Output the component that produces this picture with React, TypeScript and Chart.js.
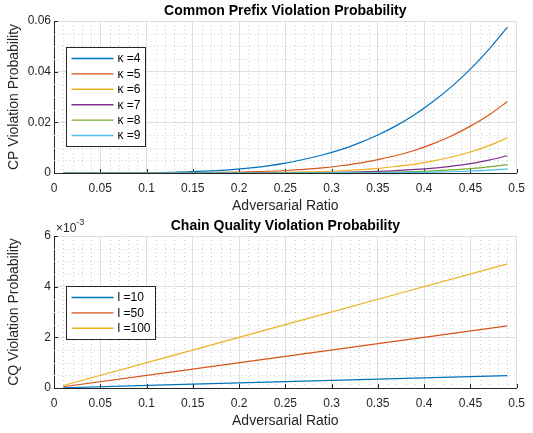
import React, { useEffect, useRef } from "react";
import { Chart, registerables } from "chart.js";

Chart.register(...registerables);

// ---------- data ----------
const cpRatio = [0.01, 0.05, 0.09, 0.13, 0.17, 0.21, 0.25, 0.29, 0.31, 0.33, 0.35, 0.37, 0.39, 0.41, 0.43, 0.45, 0.47, 0.49];
const cpKappa4 = [0, 0.00001, 0.00007, 0.0003, 0.0008, 0.0019, 0.0039, 0.0071, 0.0092, 0.0119, 0.015, 0.0187, 0.0231, 0.0283, 0.0342, 0.041, 0.0488, 0.0576];
const cpKappa5 = [0, 0, 0.000006, 0.000037, 0.00014, 0.00041, 0.00098, 0.00205, 0.00286, 0.0039, 0.0053, 0.0069, 0.009, 0.0116, 0.0147, 0.0185, 0.0229, 0.0282];
const cpKappa6 = [0, 0, 0, 0.000005, 0.000024, 0.000086, 0.00024, 0.0006, 0.00089, 0.0013, 0.0018, 0.0026, 0.0035, 0.0048, 0.0063, 0.0083, 0.0108, 0.0138];
const cpKappa7 = [0, 0, 0, 0, 0.000004, 0.000018, 0.00006, 0.00017, 0.00028, 0.00043, 0.00064, 0.00095, 0.0014, 0.0019, 0.0027, 0.0037, 0.0051, 0.0068];
const cpKappa8 = [0, 0, 0, 0, 0, 0.000004, 0.000015, 0.00005, 0.000085, 0.00014, 0.00023, 0.00035, 0.00054, 0.0008, 0.0012, 0.0017, 0.0024, 0.0033];
const cpKappa9 = [0, 0, 0, 0, 0, 0, 0.000004, 0.000014, 0.000026, 0.000047, 0.00008, 0.00013, 0.00021, 0.00033, 0.0005, 0.00076, 0.0011, 0.0016];
const cpLabels = ["κ =4", "κ =5", "κ =6", "κ =7", "κ =8", "κ =9"];

const cqRatio = [0.01, 0.13, 0.25, 0.37, 0.49];
const cqL10 = [0.00001, 0.00013, 0.00025, 0.00037, 0.00049];
const cqL50 = [0.00005, 0.00065, 0.00125, 0.00185, 0.00245];
const cqL100 = [0.0001, 0.0013, 0.0025, 0.0037, 0.0049];
const cqLabels = ["l =10", "l =50", "l =100"];

const xTicks = [0, 0.05, 0.1, 0.15, 0.2, 0.25, 0.3, 0.35, 0.4, 0.45, 0.5];
const cpYTicks = [0, 0.02, 0.04, 0.06];
const cqYTicks = [0, 0.002, 0.004, 0.006];

const COLORS = ["#0072BD", "#D95319", "#EDB120", "#7E2F8E", "#77AC30", "#4DBEEE"];
const TEXT = "#262626";
const GRID = "#dedede";
const MINOR = "#cccccc";
const FONT = "'Liberation Sans', Arial, Helvetica, sans-serif";

Chart.defaults.font.family = FONT;
Chart.defaults.color = TEXT;

type PanelOpts = {
  title: string;
  yTitle: string;
  yMax: number;
  yTicks: number[];
  yMinor: number;
  yLabel: (v: number) => string;
  padTop: number;
  xAxisH: number;
  xTitlePad: number;
  legendDy: number;
  exponent: boolean;
  datasets: any[];
};

function decorPlugin(o: PanelOpts) {
  return {
    id: "matlabDecor",
    beforeDatasetsDraw(chart: any) {
      const { ctx, chartArea: a, scales } = chart;
      const xs = scales.x;
      const ys = scales.y;
      ctx.save();
      ctx.strokeStyle = MINOR;
      ctx.lineWidth = 1;
      ctx.setLineDash([1, 3]);
      for (let i = 1; i < 50; i++) {
        if (i % 5 === 0) continue;
        const px = Math.round(xs.getPixelForValue(i / 100)) + 0.5;
        ctx.beginPath();
        ctx.moveTo(px, a.top);
        ctx.lineTo(px, a.bottom);
        ctx.stroke();
      }
      const nY = Math.round(o.yMax / o.yMinor);
      for (let j = 1; j < nY; j++) {
        if (j % 4 === 0) continue;
        const py = Math.round(ys.getPixelForValue(j * o.yMinor)) + 0.5;
        ctx.beginPath();
        ctx.moveTo(a.left, py);
        ctx.lineTo(a.right, py);
        ctx.stroke();
      }
      ctx.setLineDash([]);
      // inward tick marks
      ctx.strokeStyle = TEXT;
      for (const v of xTicks) {
        const px = Math.round(xs.getPixelForValue(v)) + 0.5;
        ctx.beginPath();
        ctx.moveTo(px, a.bottom);
        ctx.lineTo(px, a.bottom - 4);
        ctx.stroke();
      }
      for (const v of o.yTicks) {
        const py = Math.round(ys.getPixelForValue(v)) + 0.5;
        ctx.beginPath();
        ctx.moveTo(a.left, py);
        ctx.lineTo(a.left + 4, py);
        ctx.stroke();
      }
      ctx.restore();
    },
    afterDatasetsDraw(chart: any) {
      const { ctx, chartArea: a } = chart;
      ctx.save();
      // title
      ctx.fillStyle = "#000";
      ctx.font = `bold 14px ${FONT}`;
      ctx.textAlign = "center";
      ctx.textBaseline = "middle";
      ctx.fillText(o.title, (a.left + a.right) / 2, a.top - 10);
      // exponent
      if (o.exponent) {
        ctx.fillStyle = TEXT;
        ctx.textAlign = "left";
        ctx.textBaseline = "alphabetic";
        ctx.font = `12px ${FONT}`;
        const base = "×10";
        ctx.fillText(base, a.left + 2, a.top - 4);
        const w = ctx.measureText(base).width;
        ctx.font = `9px ${FONT}`;
        ctx.fillText("-3", a.left + 2 + w, a.top - 11);
      }
      // legend
      const ds = chart.data.datasets;
      ctx.font = `12px ${FONT}`;
      let maxW = 0;
      for (const d of ds) maxW = Math.max(maxW, ctx.measureText(d.label).width);
      const rowH = 15.4;
      const x0 = Math.round(a.left + 12) + 0.5;
      const y0 = Math.round(a.top + o.legendDy) + 0.5;
      const w = Math.round(51 + maxW + 5);
      const h = Math.round(22 + (ds.length - 1) * rowH);
      ctx.fillStyle = "#fff";
      ctx.fillRect(x0, y0, w, h);
      ctx.strokeStyle = TEXT;
      ctx.lineWidth = 1;
      ctx.strokeRect(x0, y0, w, h);
      ds.forEach((d: any, i: number) => {
        const y = y0 + 11 + i * rowH;
        ctx.strokeStyle = d.borderColor;
        ctx.lineWidth = 1.4;
        ctx.beginPath();
        ctx.moveTo(x0 + 5, y);
        ctx.lineTo(x0 + 47, y);
        ctx.stroke();
        ctx.fillStyle = "#000";
        ctx.textAlign = "left";
        ctx.textBaseline = "middle";
        ctx.fillText(d.label, x0 + 51, y + 0.5);
      });
      ctx.restore();
    },
  };
}

function buildConfig(o: PanelOpts): any {
  return {
    type: "line",
    data: { datasets: o.datasets },
    options: {
      responsive: false,
      animation: false,
      devicePixelRatio: 1,
      layout: { padding: { left: 0, right: 9, top: o.padTop, bottom: 0 } },
      plugins: {
        legend: { display: false },
        tooltip: { enabled: false },
        title: { display: false },
      },
      elements: { point: { radius: 0 }, line: { borderWidth: 1.2 } },
      scales: {
        x: {
          type: "linear",
          min: 0,
          max: 0.5,
          afterBuildTicks: (ax: any) => {
            ax.ticks = xTicks.map((v) => ({ value: v }));
          },
          afterFit: (ax: any) => {
            ax.height = o.xAxisH;
          },
          grid: { color: GRID, drawTicks: false, lineWidth: 1 },
          border: { color: TEXT, width: 1 },
          ticks: {
            padding: 8,
            autoSkip: false,
            maxRotation: 0,
            font: { size: 12 },
            color: TEXT,
            callback: (v: number) => String(v),
          },
          title: {
            display: true,
            text: "Adversarial Ratio",
            font: { size: 14 },
            color: TEXT,
            padding: { top: 0, bottom: o.xTitlePad },
          },
        },
        y: {
          type: "linear",
          min: 0,
          max: o.yMax,
          afterBuildTicks: (ax: any) => {
            ax.ticks = o.yTicks.map((v) => ({ value: v }));
          },
          afterFit: (ax: any) => {
            ax.width = 54;
          },
          grid: { color: GRID, drawTicks: false, lineWidth: 1 },
          border: { color: TEXT, width: 1 },
          ticks: {
            padding: 3,
            font: { size: 12 },
            color: TEXT,
            callback: (v: number) => o.yLabel(v),
          },
          title: {
            display: true,
            text: o.yTitle,
            font: { size: 14 },
            color: TEXT,
            padding: { top: 6, bottom: 0 },
          },
        },
      },
    },
    plugins: [decorPlugin(o)],
  };
}

function toPoints(xs: number[], ys: number[]) {
  return xs.map((x, i) => ({ x, y: ys[i] }));
}

function cpConfig() {
  const series = [cpKappa4, cpKappa5, cpKappa6, cpKappa7, cpKappa8, cpKappa9];
  const datasets = series.map((s, i) => ({
    label: cpLabels[i],
    data: toPoints(cpRatio, s),
    borderColor: COLORS[i],
    backgroundColor: COLORS[i],
    borderWidth: 1.2,
    pointRadius: 0,
    fill: false,
    cubicInterpolationMode: "monotone",
    order: series.length - i,
  }));
  return buildConfig({
    title: "Common Prefix Violation Probability",
    yTitle: "CP Violation Probability",
    yMax: 0.06,
    yTicks: cpYTicks,
    yMinor: 0.005,
    yLabel: (v) => String(v),
    padTop: 21,
    xAxisH: 43,
    xTitlePad: 1,
    legendDy: 26,
    exponent: false,
    datasets,
  });
}

function cqConfig() {
  const series = [cqL10, cqL50, cqL100];
  const datasets = series.map((s, i) => ({
    label: cqLabels[i],
    data: toPoints(cqRatio, s),
    borderColor: COLORS[i],
    backgroundColor: COLORS[i],
    borderWidth: 1.2,
    pointRadius: 0,
    fill: false,
    order: series.length - i,
  }));
  return buildConfig({
    title: "Chain Quality Violation Probability",
    yTitle: "CQ Violation Probability",
    yMax: 0.006,
    yTicks: cqYTicks,
    yMinor: 0.0005,
    yLabel: (v) => String(Math.round(v * 1000)),
    padTop: 20,
    xAxisH: 45,
    xTitlePad: 3,
    legendDy: 50,
    exponent: true,
    datasets,
  });
}

function Panel({ top, height, make }: { top: number; height: number; make: () => any }) {
  const ref = useRef<HTMLCanvasElement>(null);
  useEffect(() => {
    const chart = new Chart(ref.current as HTMLCanvasElement, make());
    return () => chart.destroy();
  }, []);
  return (
    <canvas
      ref={ref}
      width={533}
      height={height}
      style={{ position: "absolute", left: 0, top, width: 533, height, display: "block" }}
    />
  );
}

export default function App() {
  return (
    <div style={{ position: "absolute", left: 0, top: 0, width: 533, height: 433, background: "#fff" }}>
      <Panel top={0} height={216} make={cpConfig} />
      <Panel top={216} height={217} make={cqConfig} />
    </div>
  );
}
